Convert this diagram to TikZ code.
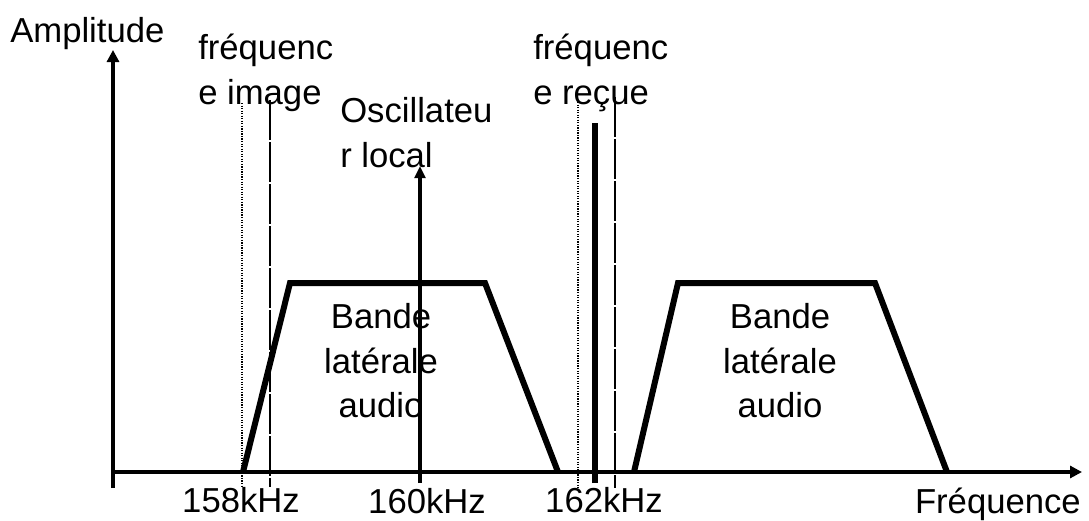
\documentclass[tikz,border=0pt]{standalone}
\usepackage{fontspec}
\setmainfont{Liberation Sans}
\usetikzlibrary{arrows.meta}
\usetikzlibrary{positioning}

\begin{document}
\begin{tikzpicture}[x=0.75pt, y=-0.75pt,
        txt/.style={font=\fontsize{26}{33.5}\selectfont, inner sep=0pt, align=left},
        axis/.style={line width=3pt, -{Triangle[length=9pt, width=9pt]}},
        band/.style={line width=4.5pt},
        thinline/.style={line width=0.9pt}]
        \useasboundingbox (0,0) rectangle (1089,521);

        % axes
        \coordinate (O) at (113,472);
        \coordinate (ybot) at (113,488);
        \coordinate (ytop) at (113,50);
        \coordinate (xend) at (1082,472);
        \draw[axis] (ybot) -- (ytop);
        \draw[axis] (O) -- (xend);
        \node[txt, anchor=north west] (amp) at (10,17) {Amplitude};
        \node[txt, anchor=base east] (freq) at (1081,513) {Fréquence};

        % lower side band (158 - 160 kHz)
        \coordinate (a1) at (243,472);
        \coordinate (a2) at (290,283);
        \coordinate (a3) at (485,283);
        \coordinate (a4) at (558,472);
        \draw[band] (a1) -- (a2) -- (a3) -- (a4);
        \node[txt, align=center, anchor=north] (bandA) at (381,303) {Bande\\latérale\\audio};

        % upper side band
        \coordinate (b1) at (634,472);
        \coordinate (b2) at (678,283);
        \coordinate (b3) at (875,283);
        \coordinate (b4) at (947,472);
        \draw[band] (b1) -- (b2) -- (b3) -- (b4);
        \node[txt, align=center, anchor=north] (bandB) at (780,303) {Bande\\latérale\\audio};

        % local oscillator
        \coordinate (oscbot) at (420,483);
        \coordinate (osctop) at (420,166);
        \draw[line width=3pt, -{Triangle[length=9pt, width=8pt]}] (oscbot) -- (osctop);
        \node[txt, anchor=north west] (osc) at (340,97) {Oscillateu\\r local};

        % image frequency
        \coordinate (im1) at (242,103);
        \coordinate (im2) at (242,488);
        \coordinate (im3) at (270,100);
        \coordinate (im4) at (270,487);
        \draw[thinline, densely dotted] (im1) -- (im2);
        \draw[thinline, dash pattern=on 30pt off 1.5pt] (im3) -- (im4);
        \node[txt, anchor=north west] (img) at (198,34) {fréquenc\\e image};

        % received frequency
        \coordinate (rc1) at (578,102);
        \coordinate (rc2) at (578,488);
        \coordinate (rc3) at (615,97);
        \coordinate (rc4) at (615,488);
        \coordinate (car1) at (595,483);
        \coordinate (car2) at (595,123);
        \draw[thinline, densely dotted] (rc1) -- (rc2);
        \draw[thinline, dash pattern=on 30pt off 1.5pt] (rc3) -- (rc4);
        \draw[line width=4.5pt] (car1) -- (car2);
        \node[txt, anchor=north west] (rec) at (533,34) {fréquenc\\e reçue};

        % frequency labels
        \node[txt, anchor=base] (f158) at (241,512) {158kHz};
        \node[txt, anchor=base] (f160) at (427,513) {160kHz};
        \node[txt, anchor=base] (f162) at (604,512) {162kHz};

\end{tikzpicture}
\end{document}
